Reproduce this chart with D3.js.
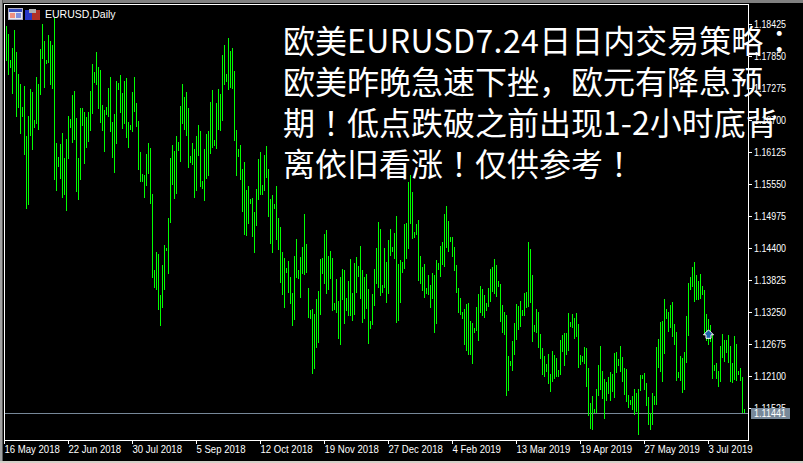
<!DOCTYPE html>
<html><head><meta charset="utf-8">
<script src="https://cdn.jsdelivr.net/npm/d3@7"></script>
<style>html,body{margin:0;padding:0;background:#000;overflow:hidden}svg{display:block}</style>
</head><body><svg id="c" width="803" height="463"></svg>
<script>
const symbolLabel = "EURUSD,Daily";
const priceTicks = [1.18425,1.17850,1.17275,1.16700,1.16125,1.15550,1.14975,1.14400,1.13825,1.13250,1.12675,1.12100,1.11525];
const dateLabels = ["16 May 2018","22 Jun 2018","30 Jul 2018","5 Sep 2018","12 Oct 2018","19 Nov 2018","27 Dec 2018","4 Feb 2019","13 Mar 2019","19 Apr 2019","27 May 2019","3 Jul 2019"];
const currentPrice = 1.11441;
const arrowBar = 351, arrowPrice = 1.1284;
const noteLines = ["欧美EURUSD7.24日日内交易策略：","欧美昨晚急速下挫，欧元有降息预","期！低点跌破之前出现1-2小时底背","离依旧看涨！仅供参考！"];
const highs = [
1.1839,1.1825,1.1778,1.1800,1.1832,1.1792,1.1753,1.1735,1.1693,1.1731,1.1641,1.1677,1.1726,1.1720,1.1670,1.1747,1.1735,1.1798,1.1843,1.1812,1.1778,1.1823,1.1812,1.1805,
1.1854,1.1629,1.1603,1.1627,1.1647,1.1602,1.1636,1.1677,1.1672,1.1715,1.1722,1.1674,1.1602,1.1692,1.1692,1.1684,1.1675,1.1684,1.1722,1.1771,1.1756,1.1792,1.1765,1.1760,
1.1697,1.1688,1.1693,1.1728,1.1747,1.1666,1.1681,1.1740,1.1737,1.1751,1.1719,1.1740,1.1746,1.1666,1.1661,1.1720,1.1747,1.1701,1.1668,1.1612,1.1573,1.1571,1.1609,1.1629,
1.1620,1.1537,1.1400,1.1432,1.1429,1.1355,1.1409,1.1445,1.1440,1.1494,1.1602,1.1625,1.1614,1.1641,1.1630,1.1695,1.1735,1.1711,1.1720,1.1692,1.1605,1.1629,1.1618,1.1641,
1.1661,1.1650,1.1560,1.1618,1.1645,1.1650,1.1702,1.1724,1.1634,1.1701,1.1726,1.1717,1.1787,1.1805,1.1753,1.1818,1.1794,1.1800,1.1758,1.1652,1.1618,1.1625,1.1582,1.1594,
1.1544,1.1551,1.1528,1.1530,1.1504,1.1546,1.1600,1.1612,1.1553,1.1607,1.1623,1.1582,1.1528,1.1535,1.1519,1.1551,1.1494,1.1477,1.1432,1.1422,1.1404,1.1416,1.1387,1.1360,
1.1425,1.1456,1.1400,1.1423,1.1441,1.1501,1.1447,1.1369,1.1328,1.1330,1.1321,1.1348,1.1362,1.1420,1.1422,1.1465,1.1472,1.1425,1.1434,1.1422,1.1341,1.1384,1.1344,1.1387,
1.1402,1.1400,1.1350,1.1380,1.1420,1.1360,1.1413,1.1423,1.1407,1.1443,1.1400,1.1387,1.1393,1.1366,1.1308,1.1357,1.1402,1.1440,1.1486,1.1474,1.1373,1.1440,1.1414,1.1454,
1.1474,1.1441,1.1467,1.1497,1.1411,1.1418,1.1414,1.1483,1.1485,1.1558,1.1571,1.1540,1.1468,1.1483,1.1490,1.1425,1.1405,1.1411,1.1368,1.1391,1.1373,1.1395,1.1391,1.1418,
1.1413,1.1443,1.1450,1.1501,1.1515,1.1488,1.1459,1.1460,1.1441,1.1410,1.1369,1.1351,1.1325,1.1331,1.1340,1.1342,1.1309,1.1306,1.1297,1.1334,1.1358,1.1372,1.1367,1.1356,
1.1342,1.1369,1.1403,1.1405,1.1421,1.1410,1.1381,1.1376,1.1338,1.1325,1.1320,1.1246,1.1237,1.1273,1.1306,1.1340,1.1336,1.1345,1.1329,1.1360,1.1361,1.1450,1.1439,1.1392,
1.1302,1.1331,1.1325,1.1286,1.1261,1.1246,1.1232,1.1250,1.1214,1.1255,1.1248,1.1242,1.1221,1.1275,1.1284,1.1288,1.1288,1.1324,1.1307,1.1322,1.1315,1.1324,1.1304,1.1248,
1.1246,1.1262,1.1261,1.1225,1.1162,1.1174,1.1151,1.1187,1.1230,1.1264,1.1219,1.1205,1.1199,1.1208,1.1217,1.1214,1.1252,1.1253,1.1241,1.1264,1.1244,1.1225,1.1223,1.1176,
1.1167,1.1174,1.1187,1.1180,1.1187,1.1212,1.1212,1.1216,1.1198,1.1172,1.1144,1.1180,1.1174,1.1262,1.1277,1.1307,1.1309,1.1349,1.1331,1.1325,1.1338,1.1343,1.1304,1.1289,
1.1217,1.1246,1.1243,1.1253,1.1318,1.1378,1.1387,1.1405,1.1414,1.1392,1.1381,1.1394,1.1372,1.1365,1.1322,1.1313,1.1302,1.1284,1.1230,1.1234,1.1219,1.1264,1.1286,1.1275,
1.1275,1.1284,1.1264,1.1234,1.1282,1.1268,1.1219,1.1225,1.1208,1.1151];
const lows = [
1.1776,1.1751,1.1764,1.1717,1.1756,1.1675,1.1692,1.1645,1.1675,1.1607,1.1510,1.1517,1.1641,1.1616,1.1656,1.1663,1.1652,1.1715,1.1780,1.1728,1.1771,1.1773,1.1733,1.1726,
1.1562,1.1542,1.1585,1.1564,1.1530,1.1535,1.1506,1.1600,1.1656,1.1629,1.1634,1.1540,1.1526,1.1562,1.1659,1.1591,1.1620,1.1630,1.1650,1.1681,1.1737,1.1733,1.1690,1.1665,
1.1650,1.1612,1.1679,1.1675,1.1648,1.1602,1.1575,1.1627,1.1724,1.1683,1.1654,1.1663,1.1638,1.1620,1.1652,1.1648,1.1684,1.1657,1.1580,1.1558,1.1558,1.1530,1.1551,1.1573,
1.1519,1.1386,1.1369,1.1364,1.1328,1.1299,1.1333,1.1364,1.1434,1.1393,1.1485,1.1553,1.1528,1.1537,1.1614,1.1594,1.1663,1.1652,1.1641,1.1584,1.1593,1.1589,1.1530,1.1542,
1.1605,1.1549,1.1546,1.1524,1.1564,1.1569,1.1609,1.1620,1.1623,1.1618,1.1652,1.1650,1.1668,1.1733,1.1738,1.1724,1.1728,1.1726,1.1632,1.1569,1.1603,1.1562,1.1504,1.1463,
1.1461,1.1483,1.1519,1.1459,1.1431,1.1479,1.1526,1.1535,1.1535,1.1542,1.1566,1.1495,1.1447,1.1431,1.1510,1.1454,1.1436,1.1377,1.1355,1.1333,1.1395,1.1359,1.1339,1.1299,
1.1310,1.1386,1.1384,1.1351,1.1393,1.1391,1.1395,1.1314,1.1312,1.1213,1.1222,1.1261,1.1269,1.1319,1.1393,1.1375,1.1357,1.1364,1.1384,1.1326,1.1328,1.1324,1.1276,1.1265,
1.1346,1.1303,1.1326,1.1317,1.1317,1.1308,1.1319,1.1359,1.1387,1.1348,1.1305,1.1312,1.1330,1.1267,1.1294,1.1301,1.1335,1.1375,1.1369,1.1353,1.1359,1.1369,1.1341,1.1357,
1.1425,1.1432,1.1420,1.1306,1.1308,1.1342,1.1395,1.1402,1.1420,1.1438,1.1483,1.1456,1.1458,1.1463,1.1380,1.1375,1.1362,1.1351,1.1357,1.1355,1.1333,1.1348,1.1287,1.1303,
1.1400,1.1387,1.1409,1.1405,1.1440,1.1432,1.1451,1.1423,1.1399,1.1360,1.1324,1.1320,1.1313,1.1266,1.1255,1.1248,1.1248,1.1232,1.1288,1.1291,1.1273,1.1323,1.1318,1.1315,
1.1327,1.1334,1.1343,1.1361,1.1358,1.1352,1.1370,1.1307,1.1288,1.1284,1.1174,1.1183,1.1228,1.1219,1.1248,1.1275,1.1293,1.1298,1.1318,1.1318,1.1333,1.1334,1.1342,1.1271,
1.1289,1.1288,1.1261,1.1241,1.1212,1.1208,1.1217,1.1196,1.1181,1.1199,1.1205,1.1208,1.1208,1.1212,1.1253,1.1228,1.1248,1.1255,1.1298,1.1297,1.1277,1.1280,1.1225,1.1230,
1.1235,1.1232,1.1190,1.1138,1.1115,1.1113,1.1144,1.1144,1.1174,1.1185,1.1169,1.1133,1.1165,1.1178,1.1165,1.1181,1.1171,1.1216,1.1228,1.1217,1.1199,1.1176,1.1163,1.1153,
1.1158,1.1149,1.1140,1.1145,1.1104,1.1183,1.1205,1.1185,1.1156,1.1122,1.1113,1.1122,1.1158,1.1158,1.1225,1.1217,1.1199,1.1250,1.1313,1.1289,1.1297,1.1280,1.1266,1.1201,
1.1207,1.1201,1.1180,1.1185,1.1234,1.1282,1.1365,1.1370,1.1343,1.1347,1.1347,1.1349,1.1356,1.1284,1.1273,1.1266,1.1271,1.1205,1.1219,1.1205,1.1190,1.1199,1.1243,1.1235,
1.1252,1.1234,1.1199,1.1198,1.1203,1.1201,1.1212,1.1201,1.1144,1.1144];

const svg = d3.select("#c");
const x = d3.scaleLinear().domain([0, highs.length - 1]).range([6, 6 + 2 * (highs.length - 1)]);
const y = d3.scaleLinear().domain([1.11525, 1.18425]).range([408, 24]);
const axisX = 748, axisY = 440;
const axisFont = "'Liberation Sans', Arial, sans-serif";

// window chrome
svg.append("rect").attr("width", 803).attr("height", 3).attr("fill", "#808080");
svg.append("rect").attr("width", 2).attr("height", 463).attr("fill", "#a0a0a0");
svg.append("rect").attr("x", 2).attr("width", 1).attr("height", 463).attr("fill", "#5a5a5a");
svg.append("rect").attr("y", 461).attr("width", 803).attr("height", 2).attr("fill", "#d4d0c8");

// current price line
svg.append("line").attr("x1", 5).attr("x2", axisX).attr("y1", Math.round(y(currentPrice)) + .5).attr("y2", Math.round(y(currentPrice)) + .5)
  .attr("stroke", "#778899");

// bars
svg.append("g").attr("shape-rendering", "crispEdges").selectAll("rect").data(highs).join("rect")
  .attr("x", (d, i) => x(i)).attr("width", 1)
  .attr("y", d => Math.round(y(d)))
  .attr("height", (d, i) => Math.max(1, Math.round(y(lows[i])) - Math.round(y(d))))
  .attr("fill", "#00ff00");

// frame
const frame = svg.append("g").attr("stroke", "#fff").attr("shape-rendering", "crispEdges");
frame.append("path").attr("fill", "none").attr("d", `M4.5,${axisY + .5}V4.5H${axisX + .5}V${axisY + .5}H4.5`);

// y axis
const yAxis = d3.axisRight(y).tickValues(priceTicks).tickFormat(d3.format(".5f")).tickSize(4).tickPadding(2);
const gy = svg.append("g").attr("transform", `translate(${axisX},0)`).call(yAxis);
gy.select(".domain").remove();
gy.selectAll("line").attr("stroke", "#fff").attr("shape-rendering", "crispEdges");
gy.selectAll("text").attr("fill", "#fff").attr("font-family", axisFont).attr("font-size", 11)
  .attr("textLength", 32).attr("lengthAdjust", "spacingAndGlyphs");

// x axis
const tickBars = dateLabels.map((d, i) => 32 * i - 1);
const xAxis = d3.axisBottom(x).tickValues(tickBars).tickFormat((d, i) => dateLabels[i]).tickSize(4).tickPadding(0);
const gx = svg.append("g").attr("transform", `translate(0,${axisY})`).call(xAxis);
gx.select(".domain").remove();
gx.selectAll("line").attr("stroke", "#fff").attr("shape-rendering", "crispEdges");
gx.selectAll("text").attr("fill", "#fff").attr("font-family", axisFont).attr("font-size", 11)
  .attr("text-anchor", "start").attr("y", 5).attr("dy", "0.71em")
  .each(function () {
    d3.select(this).attr("textLength", this.getComputedTextLength() * 0.87).attr("lengthAdjust", "spacingAndGlyphs");
  });

// price tag
const tagY = Math.round(y(currentPrice));
svg.append("rect").attr("x", axisX + 3).attr("y", tagY - 5).attr("width", 39).attr("height", 11).attr("fill", "#778899").attr("shape-rendering", "crispEdges");
svg.append("text").attr("x", axisX + 6).attr("y", tagY + 4).attr("fill", "#fff").attr("font-family", axisFont).attr("font-size", 11)
  .attr("textLength", 32).attr("lengthAdjust", "spacingAndGlyphs").text(d3.format(".5f")(currentPrice));

// arrow marker
svg.append("path").attr("transform", `translate(${x(arrowBar) + .5},${y(arrowPrice)})`)
  .attr("d", "M0,-5L5,0H2.5V3.5H-2.5V0H-5Z").attr("fill", "#1b5fa8").attr("stroke", "#fff").attr("stroke-width", 1);

// header icons
const ic = svg.append("g").attr("shape-rendering", "crispEdges");
ic.append("rect").attr("x", 8.5).attr("y", 8.5).attr("width", 14).attr("height", 11).attr("fill", "#e8e8f0").attr("stroke", "#b0b0c8");
ic.append("rect").attr("x", 9).attr("y", 9).attr("width", 13).attr("height", 3).attr("fill", "#3a50c0");
ic.append("rect").attr("x", 10).attr("y", 13).attr("width", 5).attr("height", 5).attr("fill", "#f09080");
ic.append("rect").attr("x", 16).attr("y", 13).attr("width", 5).attr("height", 5).attr("fill", "#8090e0");
ic.append("rect").attr("x", 25).attr("y", 10).attr("width", 7).attr("height", 10).attr("fill", "#2838c8");
ic.append("rect").attr("x", 32).attr("y", 10).attr("width", 8).attr("height", 10).attr("fill", "#b03028");
ic.append("rect").attr("x", 29).attr("y", 9).attr("width", 7).attr("height", 4).attr("fill", "#b0b0b0");
svg.append("text").attr("x", 45).attr("y", 18).attr("fill", "#fff").attr("font-family", axisFont).attr("font-size", 10.5).text(symbolLabel);

// note: CJK, with centred full-width punctuation and slightly wider Latin
const noteY = d3.scaleLinear().domain([0, 3]).range([53, 175.5]);
const note = svg.append("g").selectAll("text").data(noteLines).join("text")
  .attr("x", 283).attr("y", (d, i) => noteY(i)).attr("fill", "#fff")
  .attr("font-family", "'Noto Sans CJK SC','Noto Sans',sans-serif").attr("font-size", 32).attr("font-weight", 400);
note.selectAll("tspan").data(d => d.match(/[！：，]|[A-Za-z0-9.\-]+|[^！：，A-Za-z0-9.\-]+/g)).join("tspan")
  .attr("font-family", d => /[！：，]/.test(d) ? "'Noto Sans CJK JP'" : null)
  .attr("letter-spacing", d => /[A-Za-z]/.test(d) ? 0.4 : null)
  .text(d => d);
</script></body></html>
